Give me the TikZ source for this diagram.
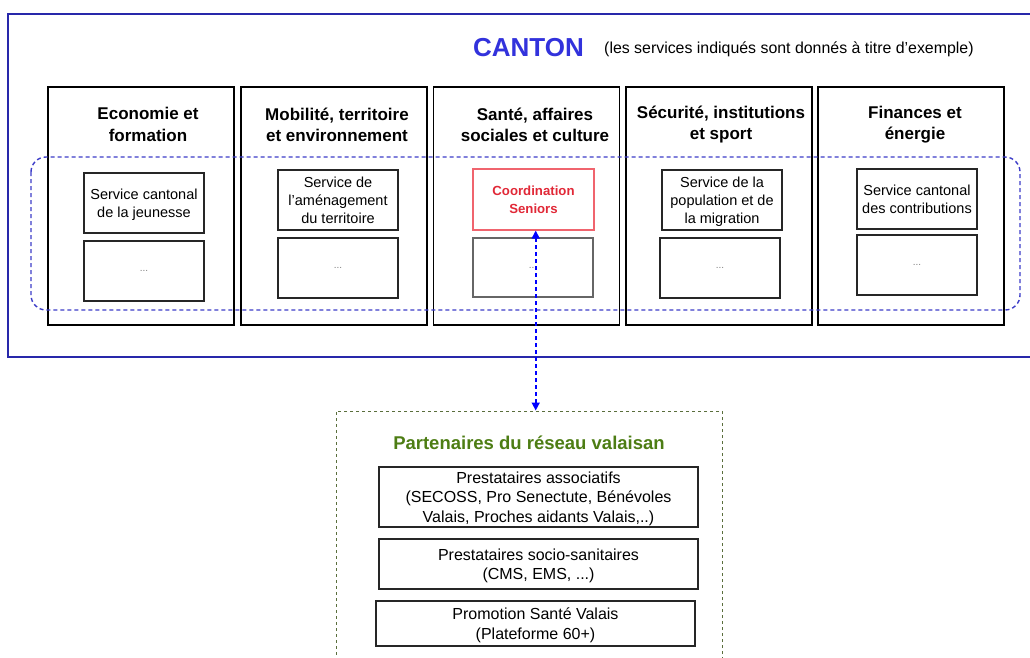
\documentclass[tikz,border=0pt]{standalone}
\usepackage{fontspec}
\setmainfont{Liberation Sans}
\usetikzlibrary{arrows.meta}
\definecolor{cadreblue}{RGB}{40,40,170}
\definecolor{cantonblue}{RGB}{50,50,220}
\definecolor{dashblue}{RGB}{60,60,200}
\definecolor{linkblue}{RGB}{0,0,255}
\definecolor{seniorred}{RGB}{225,40,55}
\definecolor{seniorborder}{RGB}{240,100,110}
\definecolor{reseaugreen}{RGB}{77,125,20}
\definecolor{reseauborder}{RGB}{90,110,60}
\begin{document}
\begin{tikzpicture}[x=1pt,y=-1pt,
  colbox/.style={draw=black,line width=1.2pt,minimum width=186pt,minimum height=238pt,inner sep=0pt},
  coltitle/.style={font=\fontsize{17}{21.3}\selectfont\bfseries,align=center},
  svcbox/.style={draw=black!85,line width=1.2pt,minimum width=120pt,minimum height=60pt,inner sep=2pt,align=center,text depth=0pt,font=\fontsize{14.5}{18}\selectfont},
  emptybox/.style={svcbox,font=\fontsize{10}{10}\selectfont,text=gray},
  partbox/.style={draw=black!85,line width=1.2pt,minimum width=319pt,inner sep=2pt,align=center,text depth=0pt,font=\fontsize{16}{19.3}\selectfont},
  link/.style={draw=linkblue,line width=1.6pt,dash pattern=on 4pt off 3pt,{Triangle[width=8pt,length=8pt,fill=linkblue]}-{Triangle[width=8pt,length=8pt,fill=linkblue]}}]
\useasboundingbox (0,0) rectangle (1030,657);
\clip (0,0) rectangle (1030,657);
\fill[white] (0,0) rectangle (1030,657);
\draw[cadreblue,line width=1.2pt] (8,14) rectangle (1045,357);		%canton
\node[font=\fontsize{26}{30}\selectfont\bfseries,text=cantonblue] (canton) at (528.5,48) {CANTON};
\node[font=\fontsize{15.9}{18}\selectfont,anchor=west,inner sep=0pt] (note) at (604,49) {(les services indiqués sont donnés à titre d'exemple)};
\node[colbox] (eco) at (141,206) {};		%departements
\node[colbox] (mob) at (334,206) {};
\node[colbox] (sante) at (526.5,206) {};
\node[colbox] (secu) at (719,206) {};
\node[colbox] (fin) at (911,206) {};
\node[coltitle] (ecot) at (148,124.5) {Economie et\\formation};
\node[coltitle] (mobt) at (337,124.5) {Mobilité, territoire\\et environnement};
\node[coltitle] (santet) at (535,124.5) {Santé, affaires\\sociales et culture};
\node[coltitle] (secut) at (721,124.5) {Sécurité, institutions\\et sport};
\node[coltitle] (fint) at (915,124.5) {Finances et\\énergie};
\draw[dashblue,line width=1.4pt,dash pattern=on 4pt off 3pt,rounded corners=15pt] (31,157) rectangle (1020,310);	%services
\node[svcbox] (jeun) at (144,203) {Service cantonal\\de la jeunesse};
\node[emptybox] (eco2) at (144,271) {...};
\node[svcbox] (amen) at (338,200) {Service de\\l'aménagement\\du territoire};
\node[emptybox] (mob2) at (338,268) {...};
\node[svcbox,draw=seniorborder,text=seniorred,minimum width=121pt,minimum height=61pt,font=\fontsize{13.2}{18}\selectfont\bfseries] (coord) at (533.5,199.5) {Coordination\\Seniors};
\node[emptybox,draw=black!60,minimum height=59pt] (sante2) at (533,267.5) {...};
\node[svcbox] (popu) at (722,200) {Service de la\\population et de\\la migration};
\node[emptybox] (secu2) at (720,268) {...};
\node[svcbox] (contr) at (917,199) {Service cantonal\\des contributions};
\node[emptybox] (fin2) at (917,265) {...};
\node[draw=reseauborder,line width=1pt,dash pattern=on 3pt off 3pt,minimum width=386pt,minimum height=289pt,inner sep=0pt] (reseau) at (529,555.5) {};	%partenaires
\node[font=\fontsize{18.5}{22}\selectfont\bfseries,text=reseaugreen] (reseaut) at (529,443) {Partenaires du réseau valaisan};
\node[partbox,minimum height=60pt] (asso) at (538.5,497) {Prestataires associatifs\\(SECOSS, Pro Senectute, Bénévoles\\Valais, Proches aidants Valais,..)};
\node[partbox,minimum height=50pt] (socio) at (538.5,564) {Prestataires socio-sanitaires\\(CMS, EMS, ...)};
\node[partbox,minimum height=45pt] (promo) at (535.5,623.5) {Promotion Santé Valais\\(Plateforme 60+)};
\draw[link] ([xshift=2.2pt]coord.south) -- ([xshift=2.2pt]coord.south |- reseau.north);
\end{tikzpicture}
\end{document}
